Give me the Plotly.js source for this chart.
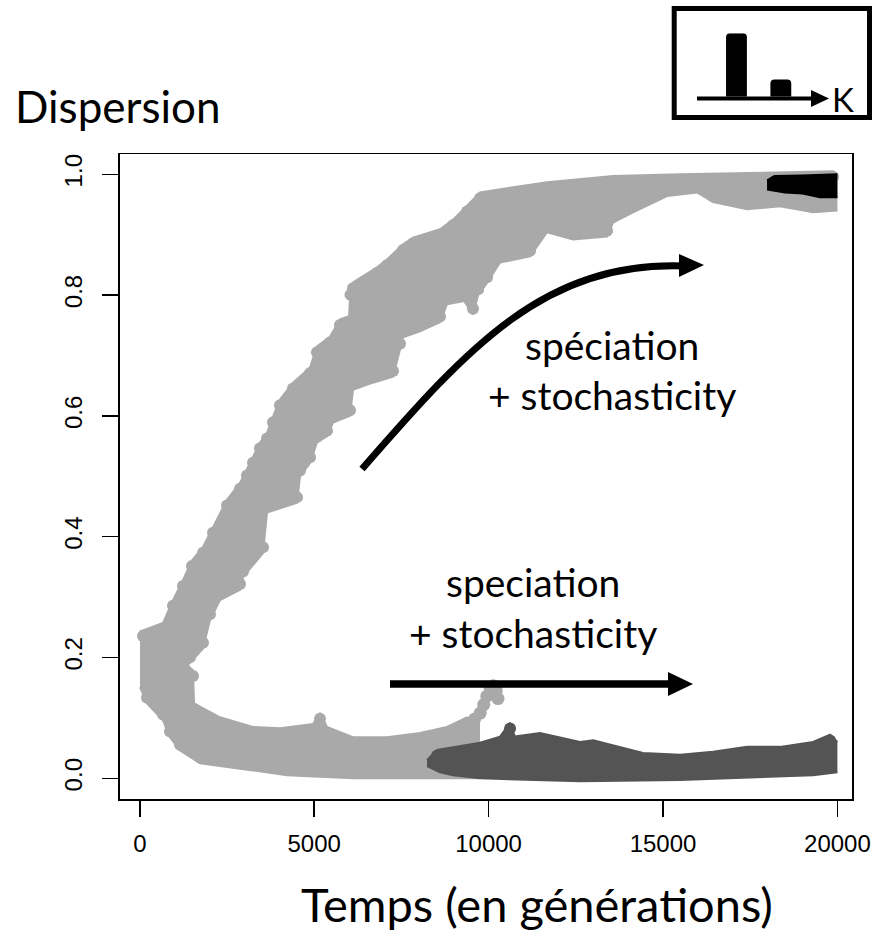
<!DOCTYPE html>
<html>
<head>
<meta charset="utf-8">
<script src="https://cdn.plot.ly/plotly-3.0.1.min.js"></script>
<style>html,body{margin:0;padding:0;background:#fff;}#chart{width:889px;height:933px;}</style>
</head>
<body>
<div id="chart"></div>
<script>
// ---- Data ----
// x in generations, y = dispersion. Each band is given by its top and bottom edge.
// Upper light-gray branch (rising trajectories)
const upperTopX = [6, 92, 665, 952, 1238, 1497, 1812, 2099, 2500, 2873, 3073, 3245, 3446, 3647, 3819, 4019, 4392, 4880, 5080, 5453, 5740, 6000, 6040, 6112, 6800, 7087, 7546, 7833, 8607, 8980, 9381, 9754, 11675, 13568, 15489, 19875, 20000];
const upperTopY = [0.24, 0.245, 0.257, 0.295, 0.328, 0.361, 0.383, 0.416, 0.461, 0.489, 0.511, 0.532, 0.556, 0.572, 0.599, 0.627, 0.655, 0.68, 0.715, 0.731, 0.76, 0.765, 0.81, 0.821, 0.846, 0.859, 0.884, 0.895, 0.909, 0.925, 0.948, 0.97, 0.987, 0.997, 1.0, 1.005, 1.0];
const upperBotX = [6, 866, 1439, 1812, 2012, 2299, 2873, 2959, 3532, 3647, 4507, 4593, 4880, 5080, 5367, 5539, 6026, 6112, 6686, 7259, 7460, 7546, 8033, 8607, 8808, 9300, 9553, 9700, 9955, 10328, 11189, 11675, 12421, 13396, 13568, 14141, 15116, 15976, 16435, 17410, 18355, 19302, 20000];
const upperBotY = [0.17, 0.17, 0.191, 0.215, 0.262, 0.295, 0.312, 0.333, 0.373, 0.44, 0.456, 0.5, 0.522, 0.556, 0.566, 0.589, 0.6, 0.643, 0.655, 0.665, 0.71, 0.73, 0.74, 0.755, 0.785, 0.79, 0.768, 0.8, 0.82, 0.854, 0.864, 0.904, 0.892, 0.897, 0.92, 0.937, 0.964, 0.97, 0.954, 0.942, 0.947, 0.937, 0.94];
// Lower light-gray branch (falling trajectories)
const lowerTopX = [6, 866, 1296, 1525, 1555, 2299, 3245, 4019, 4966, 5166, 5367, 6112, 7087, 8033, 8808, 9381, 9754];
const lowerTopY = [0.245, 0.22, 0.19, 0.179, 0.124, 0.101, 0.085, 0.083, 0.09, 0.108, 0.085, 0.068, 0.068, 0.075, 0.085, 0.101, 0.09];
const lowerBotX = [6, 206, 665, 866, 1153, 1726, 3245, 4220, 6112, 8980, 9754];
const lowerBotY = [0.151, 0.124, 0.096, 0.068, 0.046, 0.025, 0.013, 0.005, 0.0, 0.0, 0.0];
// Stray light-gray points near 10000
const strayX = [9600, 9760, 9860, 9950, 10040, 10130, 10220, 10270];
const strayY = [0.098, 0.108, 0.122, 0.136, 0.150, 0.153, 0.145, 0.132];
// Dark-gray band (after speciation, low dispersion)
const darkTopX = [8234, 8521, 9754, 10328, 10615, 10750, 11475, 12622, 13000, 14428, 15489, 16435, 17410, 18355, 19302, 19789, 20000];
const darkTopY = [0.03, 0.047, 0.059, 0.069, 0.092, 0.069, 0.075, 0.06, 0.063, 0.042, 0.039, 0.044, 0.052, 0.052, 0.06, 0.072, 0.06];
const darkBotX = [8234, 8607, 8980, 9754, 12622, 15489, 19302, 20000];
const darkBotY = [0.02, 0.01, 0.005, 0.0, -0.005, -0.003, 0.005, 0.01];
// Black cluster (high dispersion, end of run)
const blackTopX = [17983, 18200, 19000, 20000];
const blackTopY = [0.99, 0.997, 0.998, 1.0];
const blackBotX = [17983, 18500, 19000, 19500, 20000];
const blackBotY = [0.975, 0.97, 0.968, 0.962, 0.962];
// Inset: trait distribution along K
const insetCats = [1, 2];
const insetVals = [1, 0.27];
// Axis ticks
const xTicks = [0, 5000, 10000, 15000, 20000];
const xTickText = ['0', '5000', '10000', '15000', '20000'];
const yTicks = [0, 0.2, 0.4, 0.6, 0.8, 1.0];
const yTickText = ['0.0', '0.2', '0.4', '0.6', '0.8', '1.0'];

const LIGHT = '#A9A9A9', DARK = '#545454', BLACK = '#000000';
const W = 889, H = 933;
const PX = x => x / W;
const PY = y => 1 - y / H;
const P = (x, y) => PX(x).toFixed(5) + ',' + PY(y).toFixed(5);
const RAD = 0.0095; // marker radius in data units (y)

function band(xb, yb, xt, yt, color) {
  const inner = a => a.slice(1, -1);
  return [
    {x: xb, y: yb, type: 'scatter', mode: 'lines', line: {color: color, width: 2}, hoverinfo: 'skip'},
    {x: xt, y: yt, type: 'scatter', mode: 'lines', fill: 'tonexty', fillcolor: color, line: {color: color, width: 2}, hoverinfo: 'skip'},
    // round point markers along the edges, giving the dotted outline of the plotted points
    {x: inner(xb), y: inner(yb).map(v => v + RAD), type: 'scatter', mode: 'markers', marker: {color: color, size: 12}, hoverinfo: 'skip'},
    {x: inner(xt), y: inner(yt).map(v => v - RAD), type: 'scatter', mode: 'markers', marker: {color: color, size: 12}, hoverinfo: 'skip'}
  ];
}

const traces = [].concat(
  band(upperBotX, upperBotY, upperTopX, upperTopY, LIGHT),
  band(lowerBotX, lowerBotY, lowerTopX, lowerTopY, LIGHT),
  [{x: strayX, y: strayY, type: 'scatter', mode: 'markers', marker: {color: LIGHT, size: 13}}],
  band(darkBotX, darkBotY, darkTopX, darkTopY, DARK),
  band(blackBotX, blackBotY, blackTopX, blackTopY, BLACK),
  [{x: insetCats, y: insetVals, type: 'bar', xaxis: 'x2', yaxis: 'y2', width: 0.47,
    marker: {color: BLACK, cornerradius: 4}}]
);

const tickFont = {family: 'Liberation Sans, Arial, sans-serif', size: 24, color: '#000'};
const txtFont = {family: 'Lato, sans-serif', size: 39, color: '#000'};

const layout = {
  width: W, height: H,
  margin: {l: 0, r: 0, t: 0, b: 0},
  paper_bgcolor: '#fff', plot_bgcolor: '#fff',
  showlegend: false,
  xaxis: {
    domain: [119.5 / W, 852.3 / W], range: [-582, 20427],
    tickvals: xTicks, ticktext: xTickText, tickfont: tickFont,
    ticks: 'outside', ticklen: 16, tickwidth: 1.5, tickcolor: '#000',
    ticklabelstandoff: 6,
    showline: true, mirror: true, linecolor: '#000', linewidth: 1.5,
    showgrid: false, zeroline: false
  },
  yaxis: {
    domain: [1 - 799.3 / H, 1 - 154 / H], range: [-0.0348, 1.0336],
    tickvals: yTicks, ticktext: yTickText, tickfont: tickFont, tickangle: -90,
    ticks: 'outside', ticklen: 16, tickwidth: 1.5, tickcolor: '#000',
    ticklabelstandoff: 10,
    showline: true, mirror: true, linecolor: '#000', linewidth: 1.5,
    showgrid: false, zeroline: false
  },
  xaxis2: {domain: [697.3 / W, 828.3 / W], range: [0.117, 3.07], anchor: 'y2', visible: false, fixedrange: true},
  yaxis2: {domain: [1 - 96.7 / H, 1 - 33.3 / H], range: [0, 1], anchor: 'x2', visible: false, fixedrange: true},
  shapes: [
    // curved arrow
    {type: 'path', xref: 'paper', yref: 'paper', layer: 'above',
     path: 'M ' + P(362, 469) + ' C ' + P(470, 345) + ' ' + P(545, 262) + ' ' + P(683, 266),
     line: {color: BLACK, width: 7}},
    {type: 'path', xref: 'paper', yref: 'paper', layer: 'above',
     path: 'M ' + P(679, 254) + ' L ' + P(704, 265) + ' L ' + P(679, 277) + ' Z',
     fillcolor: BLACK, line: {width: 0}},
    // straight arrow
    {type: 'line', xref: 'paper', yref: 'paper', layer: 'above',
     x0: PX(390), y0: PY(684), x1: PX(672), y1: PY(684), line: {color: BLACK, width: 7.5}},
    {type: 'path', xref: 'paper', yref: 'paper', layer: 'above',
     path: 'M ' + P(668, 672) + ' L ' + P(693, 684) + ' L ' + P(668, 696) + ' Z',
     fillcolor: BLACK, line: {width: 0}},
    // inset frame
    {type: 'rect', xref: 'paper', yref: 'paper', layer: 'above',
     x0: PX(674.2), y0: PY(8.5), x1: PX(869.5), y1: PY(117.5), line: {color: BLACK, width: 5}},
    // inset axis arrow
    {type: 'line', xref: 'paper', yref: 'paper', layer: 'above',
     x0: PX(697), y0: PY(98.5), x1: PX(814), y1: PY(98.5), line: {color: BLACK, width: 4}},
    {type: 'path', xref: 'paper', yref: 'paper', layer: 'above',
     path: 'M ' + P(811, 90) + ' L ' + P(829, 98.5) + ' L ' + P(811, 107) + ' Z',
     fillcolor: BLACK, line: {width: 0}}
  ],
  annotations: [
    {text: 'Dispersion', xref: 'paper', yref: 'paper', x: PX(13), y: PY(106), xanchor: 'left', yanchor: 'middle', showarrow: false,
     font: {family: 'Lato, sans-serif', size: 44, color: '#000'}},
    {text: 'Temps (en générations)', xref: 'paper', yref: 'paper', x: PX(537), y: PY(904), xanchor: 'center', yanchor: 'middle', showarrow: false,
     font: {family: 'Lato, sans-serif', size: 47, color: '#000'}},
    {text: 'spéciation', xref: 'paper', yref: 'paper', x: PX(612), y: PY(345), xanchor: 'center', yanchor: 'middle', showarrow: false, font: txtFont},
    {text: '+ stochasticity', xref: 'paper', yref: 'paper', x: PX(612), y: PY(395), xanchor: 'center', yanchor: 'middle', showarrow: false, font: txtFont},
    {text: 'speciation', xref: 'paper', yref: 'paper', x: PX(533), y: PY(582), xanchor: 'center', yanchor: 'middle', showarrow: false, font: txtFont},
    {text: '+ stochasticity', xref: 'paper', yref: 'paper', x: PX(533), y: PY(633), xanchor: 'center', yanchor: 'middle', showarrow: false, font: txtFont},
    {text: 'K', xref: 'paper', yref: 'paper', x: PX(843), y: PY(99), xanchor: 'center', yanchor: 'middle', showarrow: false, font: {family: 'Lato, sans-serif', size: 33, color: '#000'}}
  ]
};

Plotly.newPlot('chart', traces, layout, {staticPlot: true, displayModeBar: false});
</script>
</body>
</html>
